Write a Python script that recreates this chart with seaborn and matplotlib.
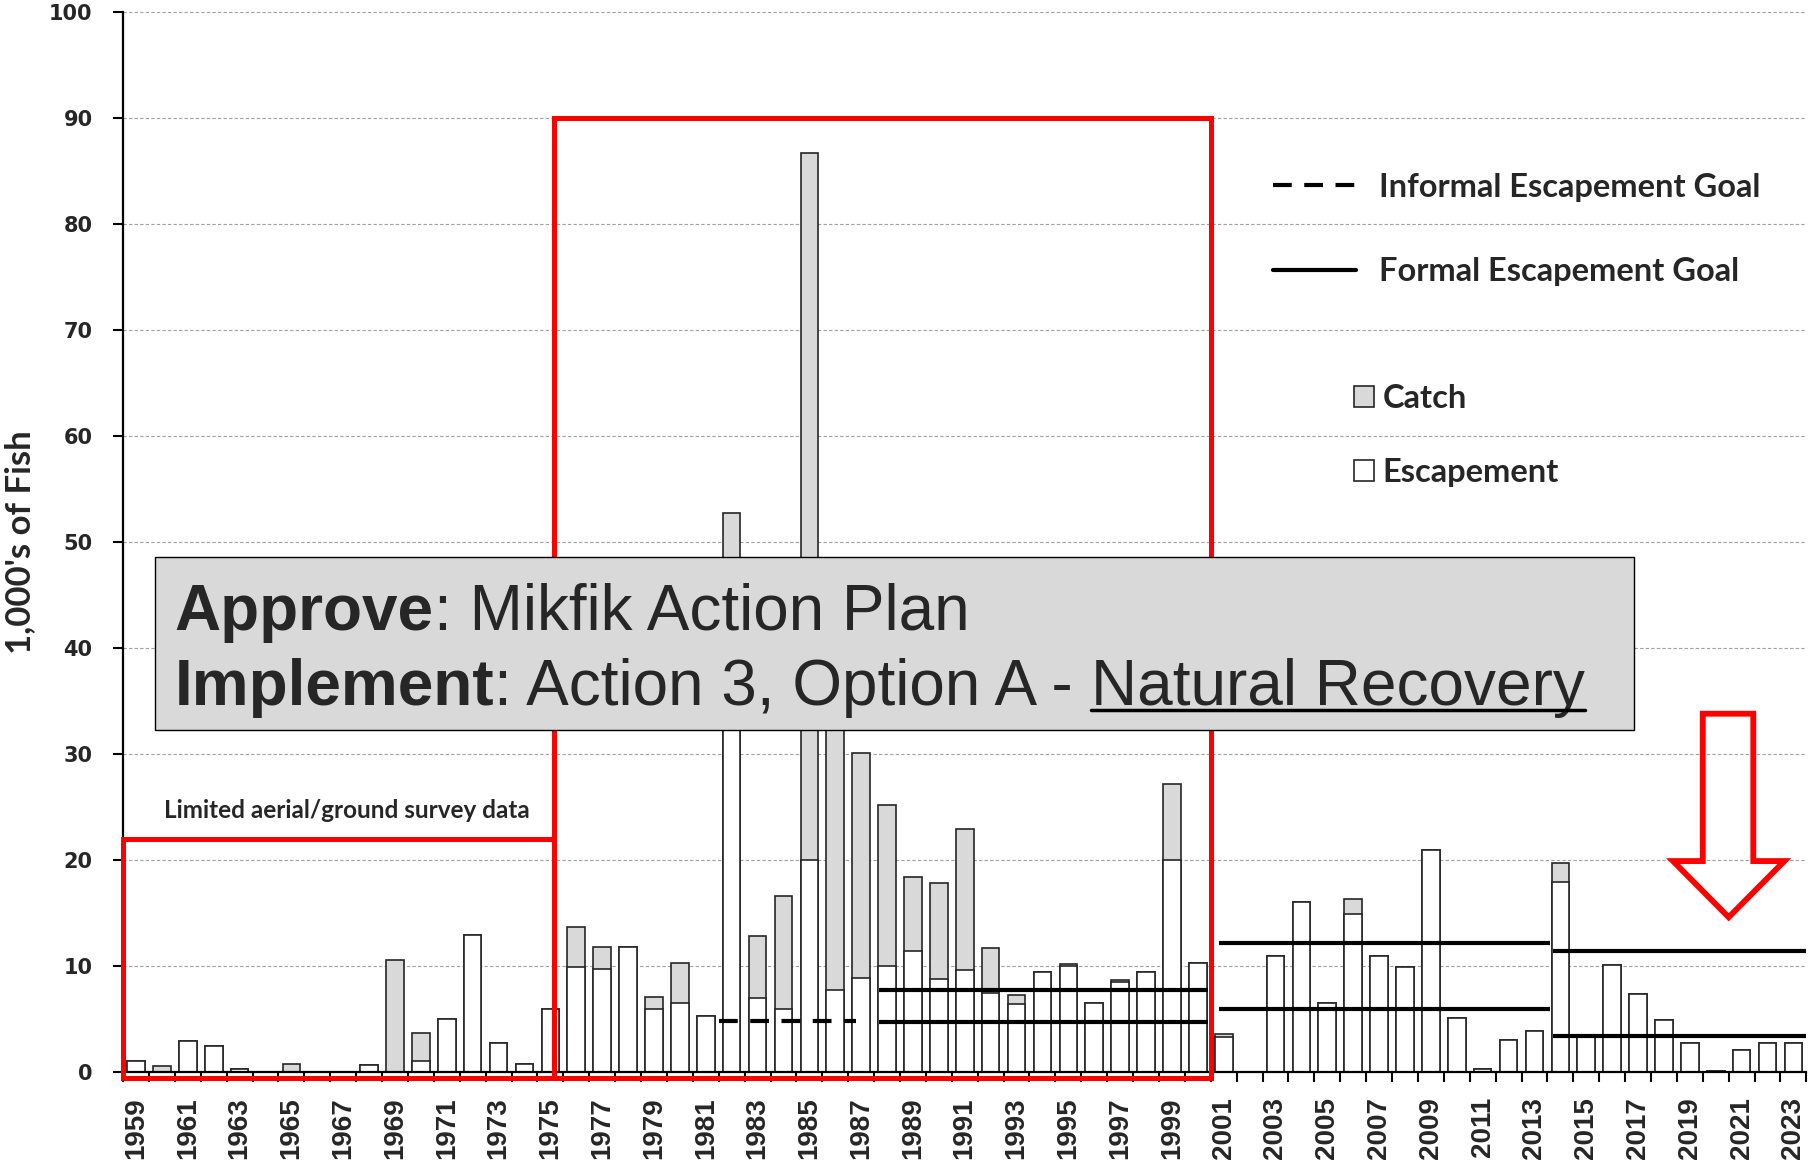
import numpy as np
import pandas as pd
import matplotlib
matplotlib.use('Agg')
import matplotlib.pyplot as plt
import seaborn as sns
from matplotlib.patches import Rectangle, Polygon, Patch
from matplotlib.lines import Line2D

# Mikfik Creek run, thousands of fish
years = list(range(1959, 2024))
escapement = [1.0, 0.0, 2.9, 2.5, 0.3, 0.0, 0.0, 0.0, 0.0, 0.7,
              0.0, 1.0, 5.0, 12.9, 2.7, 0.8, 5.9, 9.9, 9.7, 11.8,
              5.9, 6.5, 5.3, 46.0, 7.0, 5.9, 20.0, 7.7, 8.9, 10.0,
              11.4, 8.8, 9.6, 7.5, 6.4, 9.4, 10.0, 6.5, 8.5, 9.4,
              20.0, 10.3, 3.3, 0.0, 10.9, 16.0, 6.5, 14.9, 10.9, 9.9,
              20.9, 5.1, 0.3, 3.0, 3.9, 17.9, 3.5, 10.1, 7.4, 4.9,
              2.7, 0.1, 2.1, 2.7, 2.7]
catch = [0.0, 0.6, 0.0, 0.0, 0.0, 0.0, 0.8, 0.0, 0.0, 0.0,
         10.6, 2.7, 0.0, 0.0, 0.0, 0.0, 0.0, 3.8, 2.1, 0.0,
         1.2, 3.8, 0.0, 6.7, 5.8, 10.7, 66.7, 31.0, 21.2, 15.2,
         7.0, 9.0, 13.3, 4.2, 0.9, 0.0, 0.15, 0.0, 0.2, 0.0,
         7.2, 0.0, 0.25, 0.0, 0.0, 0.0, 0.0, 1.4, 0.0, 0.0,
         0.0, 0.0, 0.0, 0.0, 0.0, 1.8, 0.0, 0.0, 0.0, 0.0,
         0.0, 0.0, 0.0, 0.0, 0.0]

# escapement goals: (start year, end year, level)
informal_goal = [(1981.5, 1986.8, 4.8)]
formal_goal = [(1987.7, 2000.4, 4.7), (1987.7, 2000.4, 7.7),
               (2000.8, 2013.6, 5.9), (2000.8, 2013.6, 12.2),
               (2013.7, 2023.5, 3.4), (2013.7, 2023.5, 11.4)]

df = pd.DataFrame({'Year': [str(y) for y in years],
                   'Escapement': escapement, 'Catch': catch})
df['Total'] = df['Escapement'] + df['Catch']

sns.set_theme(style='white')
plt.rcParams['font.family'] = ['Lato', 'DejaVu Sans']

fig = plt.figure(figsize=(18.1, 11.67), dpi=100)
ax = fig.add_axes([0.068, 0.0814, 0.930, 0.9083])

edge = '#262626'
sns.barplot(data=df, x='Year', y='Total', color='#d9d9d9', saturation=1,
            edgecolor=edge, linewidth=1.2, width=0.68, errorbar=None, ax=ax)
sns.barplot(data=df, x='Year', y='Escapement', color='white', saturation=1,
            edgecolor=edge, linewidth=1.2, width=0.68, errorbar=None, ax=ax)

x0 = years[0]
for a, b, lvl in informal_goal:
    ax.plot([a - x0, b - x0], [lvl, lvl], color='black', lw=3, dashes=(4.5, 3), zorder=3)
for a, b, lvl in formal_goal:
    ax.plot([a - x0, b - x0], [lvl, lvl], color='black', lw=3, zorder=3,
            solid_capstyle='butt')

ax.set_xlim(-0.5, len(years) - 0.5)
ax.set_ylim(0, 100)
ax.set_xlabel('')
ax.set_ylabel("1,000's of Fish", fontsize=25, fontweight='bold', labelpad=9)

ax.set_xticks(range(0, len(years), 2))
ax.set_xticklabels([str(y) for y in years[::2]])
ax.set_xticks(np.arange(-0.5, len(years), 1), minor=True)
ax.tick_params(axis='x', which='major', length=0, pad=18, labelrotation=90,
               labelsize=20, bottom=True)
ax.tick_params(axis='x', which='minor', length=7, width=1.5, color='black',
               direction='out', bottom=True)
for lab in ax.get_xticklabels():
    lab.set_family('Liberation Sans')
    lab.set_fontweight('bold')

ax.set_yticks(range(0, 101, 10))
ax.tick_params(axis='y', length=7, width=1.5, color='black', direction='out',
               pad=15, labelsize=15, left=True)
for lab in ax.get_yticklabels():
    lab.set_family('DejaVu Sans')
    lab.set_fontweight('bold')

ax.yaxis.grid(True, color='#a0a0a0', linestyle=(0, (3, 2)), linewidth=0.8)
ax.set_axisbelow(True)
for s in ['top', 'right']:
    ax.spines[s].set_visible(False)
for s in ['left', 'bottom']:
    ax.spines[s].set_color('black')
    ax.spines[s].set_linewidth(1.6)

# red boxes
ax.add_patch(Rectangle((-0.5, -0.55), 16.65, 22.55, fill=False, ec='red', lw=3.6,
                       clip_on=False, zorder=4, joinstyle='miter'))
ax.add_patch(Rectangle((16.15, -0.55), 25.35, 90.55, fill=False, ec='red', lw=3.6,
                       clip_on=False, zorder=4, joinstyle='miter'))
ax.text(8.15, 24.7, 'Limited aerial/ground survey data', fontsize=17.5,
        fontweight='bold', ha='center', va='center', zorder=4)

# red down arrow
arrow = [(60.5, 33.8), (62.45, 33.8), (62.45, 19.9), (63.65, 19.9),
         (61.5, 14.6), (59.35, 19.9), (60.5, 19.9)]
ax.add_patch(Polygon(arrow, closed=True, fill=False, ec='red', lw=4.2,
                     joinstyle='miter', zorder=4))

# legends
lines_h = [Line2D([], [], color='black', lw=3, dashes=(4.5, 3)),
           Line2D([], [], color='black', lw=3)]
leg_prop = {'family': 'Lato', 'weight': 'bold', 'size': 23.5}
leg1 = ax.legend(lines_h, ['Informal Escapement Goal', 'Formal Escapement Goal'],
                 loc='center left', bbox_to_anchor=(1273 / 1810, 1 - 229.5 / 1167),
                 bbox_transform=fig.transFigure, frameon=False, handlelength=2.55,
                 handletextpad=0.7, labelspacing=1.69, borderpad=0, borderaxespad=0,
                 prop=leg_prop)
ax.add_artist(leg1)
patch_h = [Patch(fc='#d9d9d9', ec=edge, lw=1.2), Patch(fc='white', ec=edge, lw=1.2)]
ax.legend(patch_h, ['Catch', 'Escapement'], loc='center left',
          bbox_to_anchor=(1354 / 1810, 1 - 435.5 / 1167), bbox_transform=fig.transFigure,
          frameon=False, handlelength=0.62, handleheight=0.62, handletextpad=0.25,
          labelspacing=1.38, borderpad=0, borderaxespad=0, prop=leg_prop)

# overlay decision box
ax.add_patch(Rectangle((0.72, 32.3), 57.14, 16.3, fc='#d9d9d9', ec='black', lw=1,
                       zorder=5))
big = dict(fontsize=46, family='Liberation Sans', zorder=6)
t1 = ax.text(1.5, 41.7, 'Approve', fontweight='bold', va='baseline', **big)
ax.annotate(': Mikfik Action Plan', xy=(1, 0), xycoords=t1, va='bottom', ha='left', **big)
t3 = ax.text(1.5, 34.6, 'Implement', fontweight='bold', va='baseline', **big)
t4 = ax.annotate(': Action 3, Option A - ', xy=(1, 0), xycoords=t3, va='bottom',
                 ha='left', **big)
t5 = ax.annotate('Natural Recovery', xy=(1, 0), xycoords=t4, va='bottom',
                 ha='left', **big)

fig.canvas.draw()
bb = t5.get_window_extent()
yl = bb.y0 + 8.5
pts = fig.transFigure.inverted().transform([(bb.x0, yl), (bb.x1, yl)])
fig.add_artist(Line2D(pts[:, 0], pts[:, 1], color='black', lw=2.5,
                      transform=fig.transFigure, zorder=7))

fig.savefig('out.png', dpi=100)
